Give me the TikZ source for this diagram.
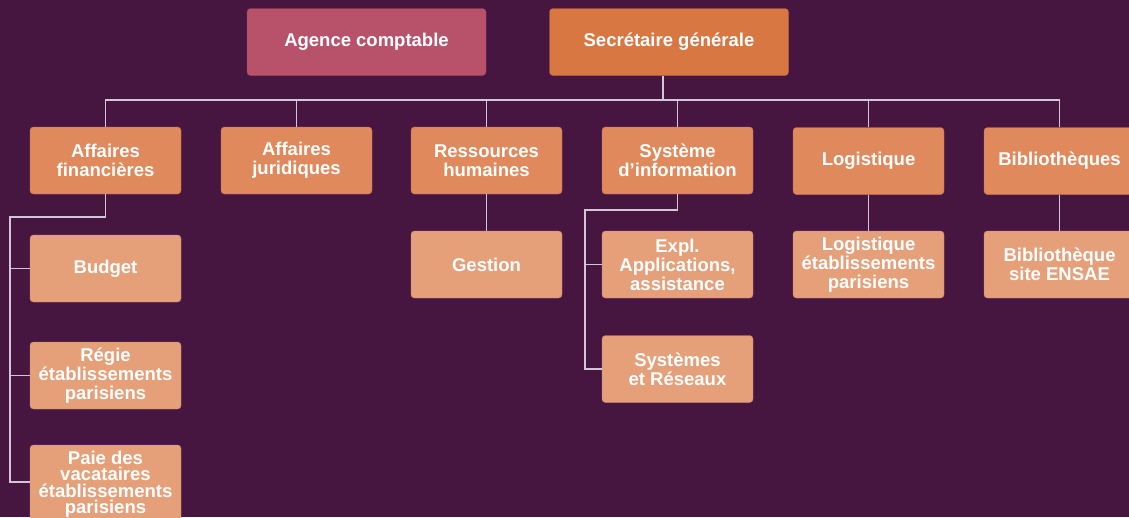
\documentclass[tikz,border=0pt]{standalone}
\usepackage{fontspec}
\setmainfont{Liberation Sans}
\definecolor{bgPurple}{HTML}{461641}
\definecolor{agenceRose}{HTML}{B8526B}
\definecolor{sgOrange}{HTML}{D97743}
\definecolor{serviceOrange}{HTML}{DF895C}
\definecolor{bureauOrange}{HTML}{E59F79}
\definecolor{linkGrey}{HTML}{D2C6DA}

\begin{document}
\begin{tikzpicture}[x = 1pt, y = -1pt]
	\tikzstyle{boxStyle} = [shape = rectangle, rounded corners = 3.5pt, minimum width = 151pt, minimum height = 67pt, inner sep = 2pt, align = center, text = white, font = \bfseries\fontsize{18.5}{19}\selectfont]
	\tikzstyle{agenceStyle} = [boxStyle, minimum width = 239pt, fill = agenceRose, draw = agenceRose!85!black]
	\tikzstyle{sgStyle} = [boxStyle, minimum width = 239pt, fill = sgOrange, draw = sgOrange!85!black]
	\tikzstyle{serviceStyle} = [boxStyle, fill = serviceOrange, draw = serviceOrange!88!black]
	\tikzstyle{bureauStyle} = [boxStyle, fill = bureauOrange, draw = bureauOrange!88!black]
	\tikzstyle{linkStyle} = [draw = linkGrey, line width = 1.5pt]
	\useasboundingbox (0,0) rectangle (1129,517);
	\fill[bgPurple] (0,0) rectangle (1129,517);
	\clip (0,0) rectangle (1129,517);
	\node[agenceStyle] (ac) at (366.5, 42) {Agence comptable};
	\node[sgStyle] (sg) at (669, 42) {Secrétaire générale};
	\node[serviceStyle] (af) at (105.5, 160.5) {Affaires\\financières};
	\node[serviceStyle] (aj) at (296.5, 160.5) {Affaires\\juridiques};
	\node[serviceStyle] (rh) at (486.5, 160.5) {Ressources\\humaines};
	\node[serviceStyle] (si) at (677.5, 160.5) {Système\\d’information};
	\node[serviceStyle] (lo) at (868.5, 161) {Logistique};
	\node[serviceStyle] (bi) at (1059.5, 161) {Bibliothèques};
	\node[bureauStyle] (bu) at (105.5, 268.5) {Budget};
	\node[bureauStyle] (re) at (105.5, 375.5) {Régie\\établissements\\parisiens};
	\node[bureauStyle, minimum height = 78pt, font = \bfseries\fontsize{18.5}{16.5}\selectfont] (pa) at (105.5, 484) {Paie des\\vacataires\\établissements\\parisiens};
	\node[bureauStyle] (ge) at (486.5, 264.5) {Gestion};
	\node[bureauStyle] (ex) at (677.5, 264.5) {Expl.\\Applications,\\assistance};
	\node[bureauStyle] (sr) at (677.5, 369) {Systèmes\\et Réseaux};
	\node[bureauStyle] (le) at (868.5, 264.5) {Logistique\\établissements\\parisiens};
	\node[bureauStyle] (bs) at (1059.5, 264.5) {Bibliothèque\\site ENSAE};
	\coordinate (bus) at (0, 100);
	\coordinate (afBend) at (10, 217);
	\coordinate (siBend) at (585, 210);
	\draw[linkStyle] ([xshift = -6pt]sg.south) -- ([xshift = -6pt]sg.south |- bus);
	\draw[linkStyle] (af.north) |- (bi.north |- bus) -- (bi.north);
	\draw[linkStyle] (aj.north) -- (aj.north |- bus);
	\draw[linkStyle] (rh.north) -- (rh.north |- bus);
	\draw[linkStyle] (si.north) -- (si.north |- bus);
	\draw[linkStyle] (lo.north) -- (lo.north |- bus);
	\draw[linkStyle] (af.south) |- (afBend) |- ([yshift = 2pt]pa.west);
	\draw[linkStyle] (bu.west) -- (bu.west -| afBend);
	\draw[linkStyle] (re.west) -- (re.west -| afBend);
	\draw[linkStyle] (si.south) |- (siBend) |- (sr.west);
	\draw[linkStyle] (ex.west) -- (ex.west -| siBend);
	\draw[linkStyle] (rh.south) -- (ge.north);
	\draw[linkStyle] (lo.south) -- (le.north);
	\draw[linkStyle] (bi.south) -- (bs.north);
\end{tikzpicture}
\end{document}
